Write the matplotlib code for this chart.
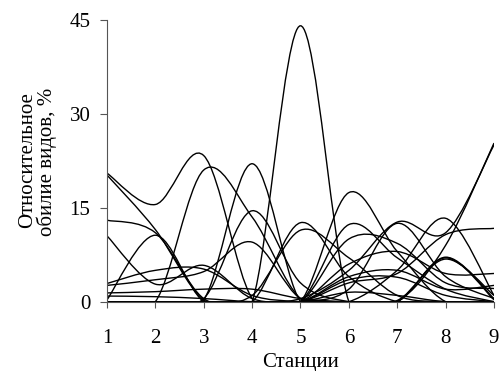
import numpy as np
import matplotlib.pyplot as plt
from matplotlib.path import Path
from matplotlib.patches import PathPatch


## DATA
# relative abundance of species (%) at stations 1..9, one list per species
stations = [1, 2, 3, 4, 5, 6, 7, 8, 9]

sp01 = [0, 0, 0, 0, 44, 0, 0, 0, 0]
sp02 = [20.5, 15.5, 23.3, 0.5, 0, 0, 0, 0, 0]
sp03 = [20.2, 11.5, 0.3, 0, 0, 0, 0, 0, 0]
sp04 = [13, 11, 0.5, 0, 0, 0, 0, 0, 0]
sp05 = [10.5, 2.8, 5.8, 0.5, 0, 0, 0, 0, 0]
sp06 = [0.3, 10.6, 0, 0, 0, 0, 0, 0, 0]
sp07 = [0, 0, 21, 13.5, 0.5, 0, 0, 0, 0]
sp08 = [0, 0, 0.3, 22, 0, 0, 0, 0, 0]
sp09 = [0, 0, 0.5, 14.5, 3, 0, 0, 0, 0]
sp10 = [2.6, 3.5, 4.8, 9.5, 0.5, 0, 0, 0, 0]
sp11 = [2.9, 5, 5.2, 1, 0, 0, 0, 0, 0]
sp12 = [1.4, 1.6, 2, 2, 0.5, 0, 0, 0, 0]
sp13 = [0.9, 0.8, 0.5, 0, 0, 0, 0, 0, 0]
sp14 = [0, 0, 0, 0, 12.6, 4, 0, 0, 0]
sp15 = [0, 0, 0, 1, 11.4, 7, 1, 0, 0]
sp16 = [0, 0, 0, 0, 0, 17.4, 8, 0, 0]
sp17 = [0, 0, 0, 0, 0, 12.3, 7, 2, 0]
sp18 = [0, 0, 0, 0, 0.5, 5, 12.7, 11, 25]
sp19 = [0, 0, 0, 0, 0, 2, 12.5, 4, 0.5]
sp20 = [0, 0, 0, 0, 0, 0, 0, 9, 25.3]
sp21 = [0, 0, 0, 0, 0, 0, 5, 13.3, 1]
sp22 = [0, 0, 0, 0, 0, 0, 0, 7.1, 0.5]
sp23 = [0, 0, 0, 0, 0, 0, 0, 7.0, 0.3]
sp24 = [0, 0, 0, 0, 0, 0, 0.2, 6.8, 1]
sp25 = [0, 0, 0, 0, 0, 3, 4.5, 10.7, 11.7]
sp26 = [0, 0, 0, 0, 0, 6, 8, 4.5, 4.5]
sp27 = [0, 0, 0, 0, 0, 4, 5, 2, 2.6]
sp28 = [0, 0, 0, 0, 0, 10, 9.3, 3, 2.1]
sp29 = [0, 0, 0, 0, 0, 3.5, 3.9, 1, 0]
sp30 = [0, 0, 0, 0, 0, 1.5, 1, 0, 0]

species = [sp01, sp02, sp03, sp04, sp05, sp06, sp07, sp08, sp09, sp10,
           sp11, sp12, sp13, sp14, sp15, sp16, sp17, sp18, sp19, sp20,
           sp21, sp22, sp23, sp24, sp25, sp26, sp27, sp28, sp29, sp30]


## SMOOTHED LINE (like Excel "smoothed line": Catmull-Rom as Bezier curves)
def smooth_path(x, y):
    x = np.asarray(x, float)
    y = np.asarray(y, float)
    px = np.concatenate([[x[0]], x, [x[-1]]])
    py = np.concatenate([[y[0]], y, [y[-1]]])
    verts = [(x[0], y[0])]
    codes = [Path.MOVETO]
    for i in range(1, len(x)):
        c1 = (px[i] + (px[i + 1] - px[i - 1]) / 6, py[i] + (py[i + 1] - py[i - 1]) / 6)
        c2 = (px[i + 1] - (px[i + 2] - px[i]) / 6, py[i + 1] - (py[i + 2] - py[i]) / 6)
        verts += [c1, c2, (px[i + 1], py[i + 1])]
        codes += [Path.CURVE4] * 3
    return Path(verts, codes)


## PLOT
plt.rcParams['font.family'] = ['Liberation Serif', 'DejaVu Serif']

fig = plt.figure(figsize=(4.99, 3.71), dpi=100)
ax = fig.add_axes([0.2144, 0.1868, 0.7756, 0.7606])

for sp in species:
    ax.add_patch(PathPatch(smooth_path(stations, sp), fill=False,
                           edgecolor='black', linewidth=1.0))

ax.set_xlim(1, 9)
ax.set_ylim(0, 45)
ax.set_xticks(stations)
ax.set_yticks([0, 15, 30, 45])

for side in ['top', 'right']:
    ax.spines[side].set_visible(False)
for side in ['left', 'bottom']:
    ax.spines[side].set_color('#555555')
    ax.spines[side].set_linewidth(0.8)

ax.tick_params(direction='out', width=0.8, color='#555555', labelsize=15)
ax.tick_params(axis='x', length=4, pad=16)
ax.tick_params(axis='y', length=5, pad=7)

# axis titles
fig.text(300.5 / 499, 1 - 363 / 371, "Станции", fontsize=15,
         ha='center', va='center')
fig.text(28 / 499, 1 - 160 / 371, "Относительное", fontsize=15,
         rotation=90, ha='center', va='center')
fig.text(47 / 499, 1 - 162 / 371, "обилие видов, %", fontsize=15,
         rotation=90, ha='center', va='center')

fig.savefig("out.png", dpi=100)
